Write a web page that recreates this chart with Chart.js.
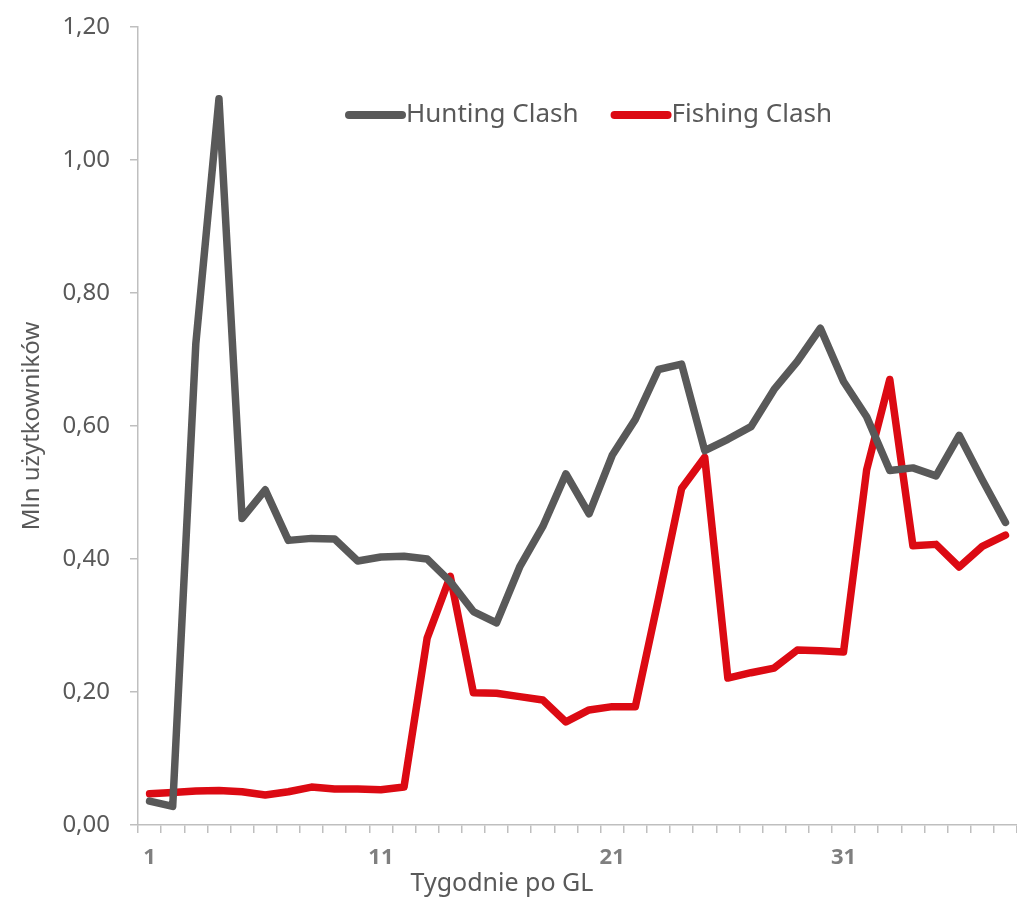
<!DOCTYPE html>
<html>
<head>
<meta charset="utf-8">
<script src="https://cdn.jsdelivr.net/npm/chart.js@4/dist/chart.umd.min.js"></script>
<style>
  html, body { margin: 0; padding: 0; background: #ffffff; }
  #wrap { width: 1017px; height: 903px; position: relative; }
</style>
</head>
<body>
<div id="wrap"><canvas id="c"></canvas></div>
<script>
const weeks = ['1','2','3','4','5','6','7','8','9','10','11','12','13','14','15','16','17','18','19','20',
               '21','22','23','24','25','26','27','28','29','30','31','32','33','34','35','36','37','38'];
const huntingClash = [0.036,0.028,0.724,1.092,0.461,0.504,0.428,0.431,0.430,0.397,
                      0.403,0.404,0.400,0.366,0.321,0.304,0.388,0.449,0.528,0.468,
                      0.556,0.610,0.685,0.693,0.563,0.580,0.599,0.655,0.697,0.747,
                      0.667,0.614,0.533,0.537,0.525,0.586,0.519,0.455];
const fishingClash = [0.047,0.049,0.051,0.052,0.050,0.045,0.050,0.057,0.054,0.054,
                      0.053,0.057,0.281,0.374,0.199,0.198,0.193,0.188,0.155,0.173,
                      0.178,0.178,0.340,0.506,0.553,0.221,0.229,0.236,0.263,0.262,
                      0.260,0.534,0.670,0.420,0.422,0.388,0.419,0.436];
const shownWeekLabels = ['1','11','21','31'];
const seriesNames = ['Hunting Clash','Fishing Clash'];
const xTitle = 'Tygodnie po GL';
const yTitle = 'Mln użytkowników';

const GREY = '#595959';
const RED = '#dc0a13';
const AXIS = '#bfbfbf';
const FONT = "'Noto Sans', 'Open Sans', sans-serif";

const innerLegend = {
  id: 'innerLegend',
  afterDraw(chart) {
    const ctx = chart.ctx;
    ctx.save();
    ctx.font = "26px " + FONT;
    ctx.textBaseline = 'middle';
    let x = 349;
    const y = 115;
    chart.data.datasets.forEach((ds, i) => {
      ctx.strokeStyle = ds.borderColor;
      ctx.lineWidth = 8;
      ctx.lineCap = 'round';
      ctx.beginPath();
      ctx.moveTo(x, y);
      ctx.lineTo(x + 53, y);
      ctx.stroke();
      ctx.fillStyle = GREY;
      ctx.textAlign = 'left';
      ctx.fillText(ds.label, x + 57, y);
      x += 57 + ctx.measureText(ds.label).width + 36;
    });
    // x axis title
    ctx.font = "25px " + FONT;
    ctx.textAlign = 'center';
    ctx.fillStyle = GREY;
    ctx.fillText(xTitle, 502, 884);
    ctx.restore();
  }
};

new Chart(document.getElementById('c'), {
  type: 'line',
  data: {
    labels: weeks,
    datasets: [
      { label: seriesNames[0], data: huntingClash, borderColor: GREY, backgroundColor: GREY,
        borderWidth: 7.5, pointRadius: 0, tension: 0, borderJoinStyle: 'round', borderCapStyle: 'round' },
      { label: seriesNames[1], data: fishingClash, borderColor: RED, backgroundColor: RED,
        borderWidth: 7.5, pointRadius: 0, tension: 0, borderJoinStyle: 'round', borderCapStyle: 'round' }
    ]
  },
  options: {
    responsive: true,
    maintainAspectRatio: false,
    animation: false,
    layout: { padding: { top: 27, right: 0, bottom: 0, left: 0 } },
    plugins: { legend: { display: false }, tooltip: { enabled: false } },
    scales: {
      x: {
        type: 'category',
        offset: true,
        grid: { offset: true, drawOnChartArea: false, drawTicks: true, tickLength: 8, color: AXIS, lineWidth: 1.5 },
        border: { color: AXIS, width: 1.5 },
        ticks: {
          autoSkip: false, maxRotation: 0, minRotation: 0, padding: 12,
          color: '#7f7f7f', font: { family: FONT, size: 22, weight: 'bold' },
          callback: function(v, i) { const l = this.getLabelForValue(v); return shownWeekLabels.includes(l) ? l : ''; }
        },
        afterFit(scale) { scale.height = 78; scale.paddingLeft = 0; scale.paddingRight = 0; }
      },
      y: {
        min: 0, max: 1.2,
        grid: { drawOnChartArea: false, drawTicks: true, tickLength: 8, color: AXIS, lineWidth: 1.5 },
        border: { color: AXIS, width: 1.5 },
        ticks: {
          stepSize: 0.2, padding: 20, color: GREY, font: { family: FONT, size: 24 },
          callback: (v) => v.toFixed(2).replace('.', ',')
        },
        title: { display: true, text: yTitle, color: GREY, font: { family: FONT, size: 24 }, padding: { top: 18, bottom: 0 } },
        afterFit(scale) { scale.width = 138; scale.paddingTop = 0; scale.paddingBottom = 0; }
      }
    }
  },
  plugins: [innerLegend]
});
</script>
</body>
</html>
